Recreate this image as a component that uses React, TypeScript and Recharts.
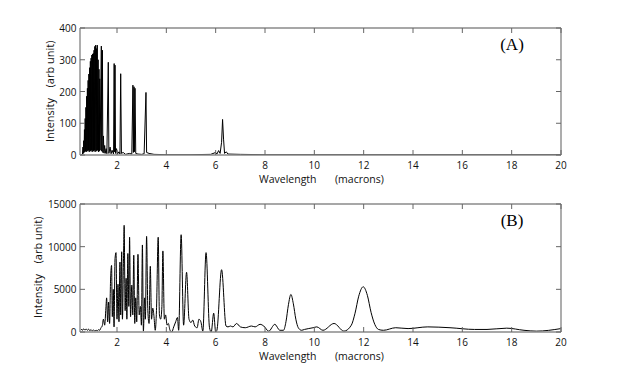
import React from 'react';
import { LineChart, Line, XAxis, YAxis } from 'recharts';

// Panel A: wavelength (microns) / intensity (arb unit)
const waveA = [
  0.55, 0.6, 0.62, 0.635, 0.65, 0.665, 0.68, 0.695, 0.71, 0.725, 0.74, 0.755, 0.77, 0.785, 0.8, 0.815,
  0.83, 0.845, 0.86, 0.875, 0.89, 0.905, 0.92, 0.935, 0.95, 0.965, 0.98, 0.995, 1.01, 1.025, 1.04, 1.055,
  1.07, 1.085, 1.1, 1.115, 1.135, 1.15, 1.165, 1.18, 1.2, 1.215, 1.235, 1.25, 1.27, 1.285, 1.3, 1.315,
  1.365, 1.38, 1.41, 1.425, 1.45, 1.47, 1.5, 1.52, 1.56, 1.59, 1.647, 1.67, 1.72, 1.76, 1.8, 1.86,
  1.885, 1.9, 1.92, 1.94, 1.98, 2.02, 2.08, 2.12, 2.15, 2.18, 2.25, 2.35, 2.5, 2.6, 2.645, 2.665,
  2.69, 2.705, 2.73, 2.76, 2.85, 3.0, 3.1, 3.175, 3.2, 3.3, 3.5, 4.0, 5.0, 5.8, 6.0, 6.05,
  6.12, 6.18, 6.24, 6.28, 6.32, 6.36, 6.43, 6.5, 7.0, 8.0, 20,
];
const intA = [
  0, 3, 25, 5, 45, 8, 80, 10, 115, 12, 150, 10, 185, 15, 210, 12,
  235, 15, 255, 10, 275, 15, 295, 12, 305, 15, 315, 10, 318, 15, 320, 12,
  330, 15, 342, 10, 346, 15, 335, 12, 346, 15, 300, 10, 270, 12, 240, 15,
  343, 12, 330, 8, 60, 6, 30, 5, 20, 4, 292, 5, 25, 4, 15, 3,
  288, 10, 283, 5, 20, 3, 10, 3, 256, 5, 8, 2, 5, 3, 220, 8,
  215, 10, 210, 5, 3, 2, 4, 197, 8, 5, 2, 1, 1, 2, 8, 3,
  14, 5, 40, 112, 50, 5, 10, 3, 2, 1, 1,
];

// Panel B
const waveB = [
  0.55, 0.6, 0.65, 0.7, 0.75, 0.8, 0.85, 0.9, 0.95, 1.0, 1.05, 1.1, 1.15, 1.2, 1.25, 1.3,
  1.35, 1.4, 1.45, 1.5, 1.55, 1.58, 1.62, 1.66, 1.7, 1.74, 1.78, 1.81, 1.85, 1.88, 1.92, 1.96,
  2.0, 2.04, 2.08, 2.12, 2.15, 2.19, 2.22, 2.26, 2.29, 2.33, 2.37, 2.4, 2.44, 2.48, 2.51, 2.55,
  2.6, 2.64, 2.68, 2.72, 2.76, 2.8, 2.85, 2.9, 2.95, 2.99, 3.03, 3.07, 3.12, 3.15, 3.2, 3.25,
  3.3, 3.35, 3.4, 3.45, 3.5, 3.55, 3.6, 3.67, 3.72, 3.77, 3.82, 3.86, 3.92, 3.97, 4.03, 4.08,
  4.15, 4.22, 4.3, 4.38, 4.45, 4.5, 4.6, 4.7, 4.82, 4.92, 5.0, 5.07, 5.15, 5.25, 5.32, 5.4,
  5.48, 5.61, 5.75, 5.82, 5.92, 6.0, 6.05, 6.24, 6.42, 6.5, 6.6, 6.7, 6.85, 7.0, 7.2, 7.45,
  7.6, 7.8, 7.95, 8.15, 8.4, 8.6, 8.75, 8.85, 8.95, 9.05, 9.15, 9.25, 9.35, 9.48, 9.6, 9.95,
  10.1, 10.35, 10.8, 11.2, 11.5, 11.65, 11.8, 11.98, 12.15, 12.3, 12.45, 12.6, 12.8, 13.3, 13.8, 14.6,
  15.5, 16.5, 17.0, 17.8, 18.5, 19.0, 20,
];
const intB = [
  350, 200, 380, 220, 360, 200, 330, 150, 280, 120, 250, 100, 220, 130, 280, 200,
  500, 700, 1500, 800, 2800, 4000, 1200, 3500, 1000, 6200, 7800, 1800, 5000, 600, 8600, 9300,
  1500, 5600, 1200, 8200, 2000, 9400, 1500, 8000, 12500, 2500, 6300, 1500, 9200, 3000, 11100, 1800,
  5500, 2000, 9000, 1000, 4000, 1200, 9100, 2000, 3000, 800, 10200, 100, 4000, 1500, 11200, 2500,
  1000, 7700, 1500, 2800, 1800, 200, 2500, 11100, 2000, 1500, 3000, 9500, 1500, 2000, 800, 1000,
  200, 0, 600, 1200, 1700, 200, 11400, 800, 7000, 1500, 1100, 1400, 700, 500, 1500, 1200,
  100, 9300, 500, 0, 2200, 0, 200, 7300, 700, 600, 700, 600, 1000, 600, 500, 700,
  600, 900, 700, 100, 900, 200, 200, 1200, 3200, 4400, 3300, 1500, 500, 200, 300, 500,
  600, 200, 1000, 100, 800, 2200, 4200, 5300, 4300, 2300, 900, 300, 200, 500, 400, 600,
  500, 300, 300, 450, 200, 100, 400,
];

const xTicks = [2, 4, 6, 8, 10, 12, 14, 16, 18, 20];
const yTicksA = [0, 100, 200, 300, 400];
const yTicksB = [0, 5000, 10000, 15000];

const dataA = waveA.map((w, i) => ({ w, v: intA[i] }));
const dataB = waveB.map((w, i) => ({ w, v: intB[i] }));

const SANS = '"Open Sans", "Liberation Sans", sans-serif';
const SERIF = '"Liberation Serif", "DejaVu Serif", serif';
const FRAME = '#8a8a8a';
const TICKC = '#666';
const TL = 5;

const BottomTick = (p: any) => (
  <g>
    <line x1={p.x} y1={p.y} x2={p.x} y2={p.y - TL} stroke={TICKC} strokeWidth={1} />
    <text x={p.x} y={p.y + 10} textAnchor="middle" dominantBaseline="central" fontSize={10} fontFamily={SANS} fill="#111">
      {p.payload.value}
    </text>
  </g>
);
const TopTick = (p: any) => (
  <line x1={p.x} y1={p.y} x2={p.x} y2={p.y + TL} stroke={TICKC} strokeWidth={1} />
);
const LeftTick = (p: any) => (
  <g>
    <line x1={p.x} y1={p.y} x2={p.x + TL} y2={p.y} stroke={TICKC} strokeWidth={1} />
    <text x={p.x - 3.5} y={p.y} textAnchor="end" dominantBaseline="central" fontSize={10} fontFamily={SANS} fill="#111">
      {p.payload.value}
    </text>
  </g>
);
const RightTick = (p: any) => (
  <line x1={p.x} y1={p.y} x2={p.x - TL} y2={p.y} stroke={TICKC} strokeWidth={1} />
);

const XLabel = (p: any) => {
  const vb = p.viewBox || { x: 80, y: 0, width: 481 };
  const y = vb.y + 24;
  return (
    <g>
      <text x={259} y={y} textAnchor="start" dominantBaseline="central" fontSize={10.5} fontFamily={SANS} fill="#111">Wavelength</text>
      <text x={335} y={y} textAnchor="start" dominantBaseline="central" fontSize={10.5} fontFamily={SANS} fill="#111">(macrons)</text>
    </g>
  );
};

const makeYLabel = (lx: number) => (p: any) => {
  const vb = p.viewBox || { x: 0, y: 0 };
  const top = vb.y;
  return (
    <g>
      <text x={lx} y={top + 92} transform={`rotate(-90 ${lx} ${top + 92})`} textAnchor="middle" dominantBaseline="central" fontSize={11} fontFamily={SANS} fill="#111">Intensity</text>
      <text x={lx} y={top + 36} transform={`rotate(-90 ${lx} ${top + 36})`} textAnchor="middle" dominantBaseline="central" fontSize={11} fontFamily={SANS} fill="#111">(arb unit)</text>
    </g>
  );
};

const makeTag = (tag: string) => (p: any) => {
  const vb = p.viewBox || { y: 0, height: 0 };
  return (
    <text x={512} y={vb.y + (vb.height || 0) + 16} textAnchor="middle" dominantBaseline="central" fontSize={17} fontFamily={SERIF} fill="#000">
      {tag}
    </text>
  );
};

type PanelProps = {
  data: { w: number; v: number }[];
  yTicks: number[];
  yMax: number;
  height: number;
  margin: { top: number; right: number; bottom: number; left: number };
  curve: 'linear' | 'monotone';
  tag: string;
  ylx: number;
};

const Panel = ({ data, yTicks, yMax, height, margin, curve, tag, ylx }: PanelProps) => (
  <LineChart width={620} height={height} data={data} margin={margin}>
    <XAxis
      xAxisId="b"
      dataKey="w"
      type="number"
      domain={[0.5, 20]}
      ticks={xTicks}
      interval={0}
      allowDataOverflow
      orientation="bottom"
      height={20}
      axisLine={{ stroke: FRAME, strokeWidth: 1.4 }}
      tickLine={false}
      tickSize={0}
      tickMargin={0}
      tick={BottomTick}
      label={XLabel}
    />
    <XAxis
      xAxisId="t"
      dataKey="w"
      type="number"
      domain={[0.5, 20]}
      ticks={xTicks}
      interval={0}
      allowDataOverflow
      orientation="top"
      height={8}
      axisLine={{ stroke: FRAME, strokeWidth: 1.4 }}
      tickLine={false}
      tickSize={0}
      tickMargin={0}
      tick={TopTick}
      label={makeTag(tag)}
    />
    <YAxis
      yAxisId="l"
      type="number"
      domain={[0, yMax]}
      ticks={yTicks}
      interval={0}
      allowDataOverflow
      orientation="left"
      width={40}
      axisLine={{ stroke: FRAME, strokeWidth: 1.4 }}
      tickLine={false}
      tickSize={0}
      tickMargin={0}
      tick={LeftTick}
      label={makeYLabel(ylx)}
    />
    <YAxis
      yAxisId="r"
      type="number"
      domain={[0, yMax]}
      ticks={yTicks}
      interval={0}
      allowDataOverflow
      orientation="right"
      width={10}
      axisLine={{ stroke: FRAME, strokeWidth: 1.4 }}
      tickLine={false}
      tickSize={0}
      tickMargin={0}
      tick={RightTick}
    />
    <Line
      xAxisId="b"
      yAxisId="l"
      dataKey="v"
      type={curve}
      stroke="#000"
      strokeWidth={1}
      dot={false}
      activeDot={false}
      isAnimationActive={false}
    />
  </LineChart>
);

export default function App() {
  return (
    <div style={{ position: 'absolute', left: 0, top: 0, width: 620, height: 373, background: '#fff' }}>
      <div style={{ position: 'absolute', left: 0, top: 0 }}>
        <Panel
          data={dataA}
          yTicks={yTicksA}
          yMax={400}
          height={186}
          margin={{ top: 20, right: 49, bottom: 11, left: 40 }}
          curve="linear"
          tag="(A)"
          ylx={49}
        />
      </div>
      <div style={{ position: 'absolute', left: 0, top: 186 }}>
        <Panel
          data={dataB}
          yTicks={yTicksB}
          yMax={15000}
          height={187}
          margin={{ top: 10, right: 49, bottom: 21, left: 40 }}
          curve="monotone"
          tag="(B)"
          ylx={37}
        />
      </div>
    </div>
  );
}
